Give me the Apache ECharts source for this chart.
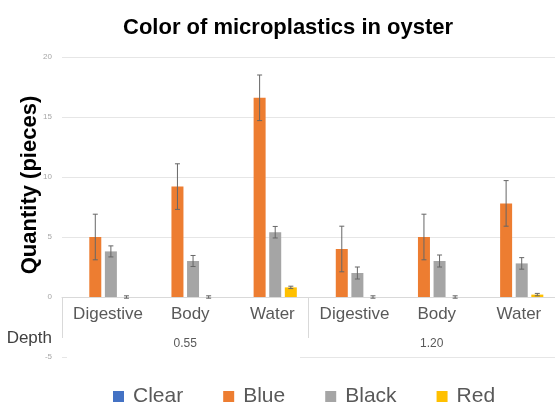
<!DOCTYPE html>
<html>
<head>
    <meta charset="utf-8">
    <title>Color of microplastics in oyster</title>
    <script src="https://cdn.jsdelivr.net/npm/echarts@6/dist/echarts.min.js"></script>
    <style>
        * { margin: 0; padding: 0; }
        body { background: #fff; }
    </style>
</head>
<body>
    <div id="main" style="width: 555px; height: 405px;"></div>
    <script type="text/javascript">
        // categories: organ part and depth group
        var parts = ['Digestive', 'Body', 'Water', 'Digestive', 'Body', 'Water'];
        var depths = ['0.55', '1.20'];
        var depthOf = ['0.55', '0.55', '0.55', '1.20', '1.20', '1.20'];

        // mean quantity (pieces)
        var clear = [0, 0, 0, 0, 0, 0];
        var blue = [5.0, 9.2, 16.6, 4.0, 5.0, 7.8];
        var black = [3.8, 3.0, 5.4, 2.0, 3.0, 2.8];
        var red = [0, 0, 0.8, 0, 0, 0.2];

        // error (+/-)
        var blueErr = [1.9, 1.9, 1.9, 1.9, 1.9, 1.9];
        var blackErr = [0.46, 0.46, 0.48, 0.5, 0.5, 0.48];
        var redErr = [0.1, 0.1, 0.1, 0.1, 0.1, 0.1];

        var legendNames = ['Clear', 'Blue', 'Black', 'Red'];
        var colors = ['#4472C4', '#ED7D31', '#A5A5A5', '#FFC000'];

        var barWidth = 12;
        var barGap = 0.3;
        var font = 'Liberation Sans';

        var myChart = echarts.init(document.getElementById('main'));

        var axisData = parts.map(function (p, i) { return p + ' ' + depthOf[i]; });

        function errData(vals, errs) {
            return vals.map(function (v, i) { return [i, v, errs[i]]; });
        }

        function errorSeries(name, slot, vals, errs) {
            return {
                type: 'custom',
                name: name,
                z: 5,
                silent: true,
                data: errData(vals, errs),
                encode: { x: 0, y: 1 },
                renderItem: function (params, api) {
                    var idx = api.value(0);
                    var v = api.value(1);
                    var e = api.value(2);
                    var hi = api.coord([idx, v + e]);
                    var lo = api.coord([idx, v - e]);
                    var x = hi[0] + (slot - 1.5) * barWidth * (1 + barGap);
                    var hw = 2.5;
                    var st = { stroke: '#666', lineWidth: 1 };
                    return {
                        type: 'group',
                        children: [
                            { type: 'line', shape: { x1: x, y1: hi[1], x2: x, y2: lo[1] }, style: st },
                            { type: 'line', shape: { x1: x - hw, y1: hi[1], x2: x + hw, y2: hi[1] }, style: st },
                            { type: 'line', shape: { x1: x - hw, y1: lo[1], x2: x + hw, y2: lo[1] }, style: st }
                        ]
                    };
                }
            };
        }

        function barSeries(name, vals, i) {
            return {
                type: 'bar',
                name: name,
                data: vals,
                barWidth: barWidth,
                barGap: (barGap * 100) + '%',
                itemStyle: { color: colors[i] }
            };
        }

        var option = {
            backgroundColor: '#fff',
            title: {
                text: 'Color of microplastics in oyster',
                left: 118,
                top: 12,
                textStyle: { fontFamily: font, fontWeight: 'bold', fontSize: 22, color: '#000' }
            },
            legend: {
                data: legendNames,
                left: 108,
                top: 381,
                icon: 'rect',
                itemWidth: 11,
                itemHeight: 11,
                itemGap: 40,
                textStyle: { fontFamily: font, fontSize: 21, color: '#595959', padding: [0, 0, 0, 4] }
            },
            grid: { left: 62, right: -5, top: 57, bottom: 48 },
            xAxis: [
                {
                    // sits on the zero line (5 units of 12px above the grid bottom)
                    type: 'category',
                    data: axisData,
                    position: 'bottom',
                    offset: -60,
                    axisLine: { onZero: false, lineStyle: { color: '#d9d9d9' } },
                    axisTick: { show: false },
                    axisLabel: {
                        interval: 0,
                        fontFamily: font,
                        fontSize: 17,
                        color: '#595959',
                        margin: 9,
                        padding: [0, 0, 0, 10],
                        formatter: function (v, i) { return parts[i]; }
                    }
                },
                {
                    type: 'category',
                    data: depths,
                    position: 'bottom',
                    offset: -19,
                    axisLine: { show: false, onZero: false },
                    axisTick: { show: true, inside: true, length: 41, lineStyle: { color: '#d9d9d9' } },
                    axisLabel: { fontFamily: font, fontSize: 12, color: '#595959', margin: 0 },
                    name: 'Depth',
                    nameLocation: 'start',
                    nameGap: 10,
                    nameTextStyle: { fontFamily: font, fontSize: 17, color: '#404040', verticalAlign: 'middle' }
                }
            ],
            yAxis: {
                type: 'value',
                min: -5,
                max: 20,
                interval: 5,
                axisLine: { show: false },
                axisTick: { show: false },
                axisLabel: { fontFamily: font, fontSize: 8, color: '#a6a6a6', margin: 10 },
                splitLine: { lineStyle: { color: '#e6e6e6' } }
            },
            graphic: [
                {
                    type: 'rect',
                    z: 100,
                    shape: { x: 67, y: 352, width: 233, height: 10 },
                    style: { fill: '#fff' }
                },
                {
                    type: 'text',
                    z: 100,
                    x: 30,
                    y: 185,
                    rotation: Math.PI / 2,
                    style: {
                        text: 'Quantity (pieces)',
                        font: 'bold 22px "Liberation Sans"',
                        fill: '#000',
                        align: 'center',
                        verticalAlign: 'middle'
                    }
                }
            ],
            series: [
                barSeries('Clear', clear, 0),
                barSeries('Blue', blue, 1),
                barSeries('Black', black, 2),
                barSeries('Red', red, 3),
                errorSeries('Blue error', 1, blue, blueErr),
                errorSeries('Black error', 2, black, blackErr),
                errorSeries('Red error', 3, red, redErr)
            ]
        };

        myChart.setOption(option);
    </script>
</body>
</html>
